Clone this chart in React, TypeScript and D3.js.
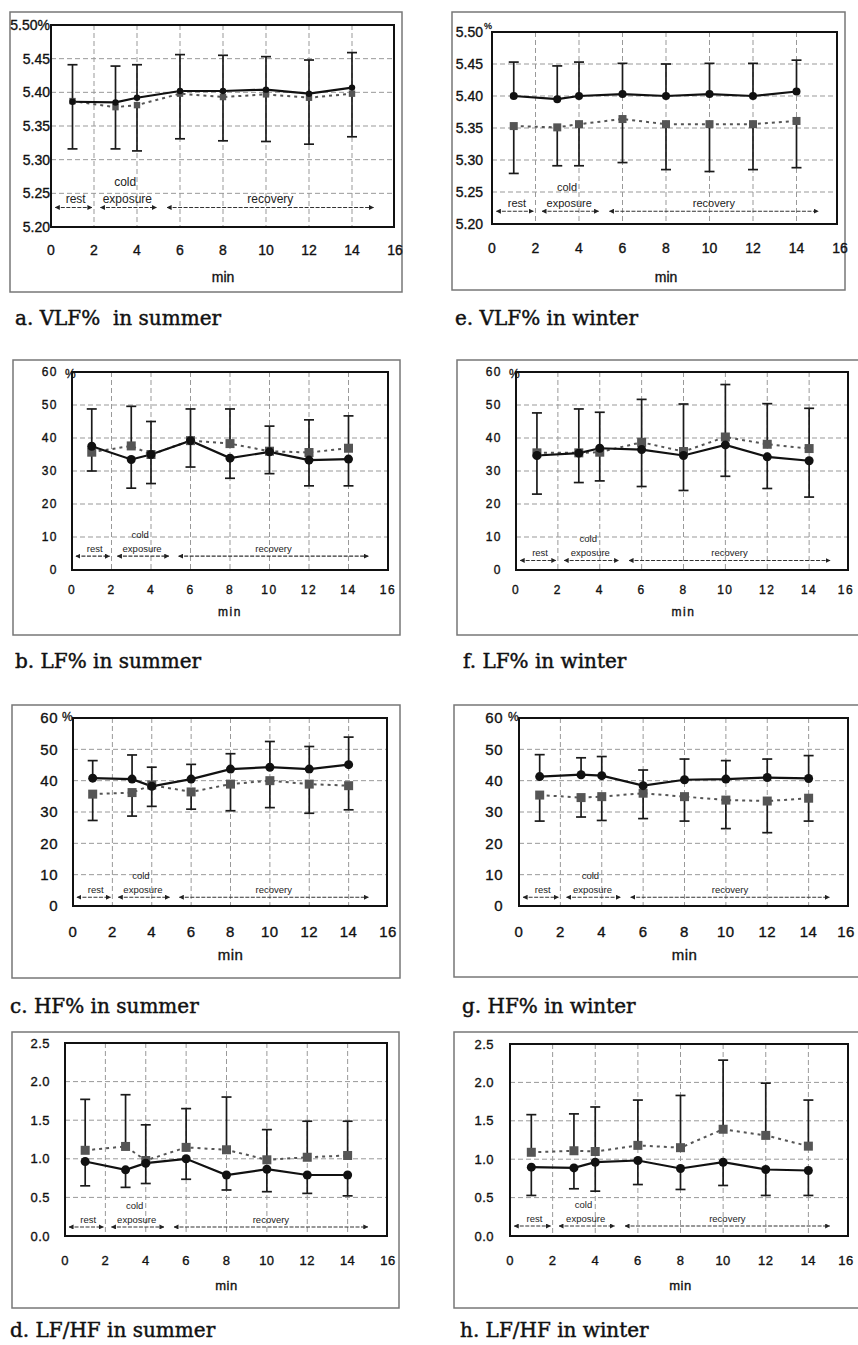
import React from 'react';
import * as d3 from 'd3';

// sampling times (min)
const minutes = [1, 3, 4, 6, 8, 10, 12, 14];
const xTicks = [0, 2, 4, 6, 8, 10, 12, 14, 16];
const vlfTicks = [5.2, 5.25, 5.3, 5.35, 5.4, 5.45, 5.5];
const pctTicks = [0, 10, 20, 30, 40, 50, 60];
const ratioTicks = [0, 0.5, 1.0, 1.5, 2.0, 2.5];

// a. VLF% summer
const vlfSummerSolid = [5.386, 5.385, 5.392, 5.402, 5.402, 5.404, 5.398, 5.407];
const vlfSummerSolidBar = [5.441, 5.439, 5.441, 5.456, 5.455, 5.453, 5.448, 5.459];
const vlfSummerDotted = [5.387, 5.378, 5.381, 5.398, 5.393, 5.397, 5.392, 5.398];
const vlfSummerDottedBar = [5.316, 5.316, 5.313, 5.331, 5.328, 5.327, 5.323, 5.334];

// e. VLF% winter
const vlfWinterSolid = [5.4, 5.395, 5.4, 5.403, 5.4, 5.403, 5.4, 5.407];
const vlfWinterSolidBar = [5.453, 5.447, 5.453, 5.451, 5.45, 5.451, 5.451, 5.456];
const vlfWinterDotted = [5.353, 5.351, 5.356, 5.364, 5.356, 5.356, 5.356, 5.361];
const vlfWinterDottedBar = [5.279, 5.291, 5.291, 5.296, 5.285, 5.282, 5.285, 5.288];

// b. LF% summer
const lfSummerSolid = [37.5, 33.5, 35, 39.2, 33.9, 35.8, 33.3, 33.6];
const lfSummerSolidBar = [30, 24.8, 26.2, 31.2, 27.8, 29.2, 25.5, 25.5];
const lfSummerDotted = [35.7, 37.6, 35, 39.2, 38.3, 36, 35.6, 36.9];
const lfSummerDottedBar = [48.8, 49.6, 45, 48.8, 48.8, 43.6, 45.5, 46.7];

// f. LF% winter
const lfWinterSolid = [34.7, 35.4, 36.9, 36.5, 34.7, 37.9, 34.3, 33.1];
const lfWinterSolidBar = [23, 26.5, 27, 25.3, 24.1, 28.4, 24.7, 22.1];
const lfWinterDotted = [35.5, 35.5, 35.7, 38.7, 35.9, 40.3, 38.1, 36.8];
const lfWinterDottedBar = [47.6, 48.8, 47.8, 51.7, 50.3, 56.2, 50.4, 49];

// c. HF% summer
const hfSummerSolid = [40.8, 40.5, 38.2, 40.5, 43.7, 44.3, 43.7, 45.1];
const hfSummerSolidBar = [46.4, 48.2, 44.3, 45.2, 48.6, 52.5, 50.9, 53.9];
const hfSummerDotted = [35.7, 36.2, 38.6, 36.4, 38.9, 40, 38.9, 38.4];
const hfSummerDottedBar = [27.3, 28.7, 31.8, 30.9, 30.4, 31.4, 29.6, 30.7];

// g. HF% winter
const hfWinterSolid = [41.3, 41.9, 41.6, 38.4, 40.3, 40.5, 41, 40.7];
const hfWinterSolidBar = [48.3, 47.3, 47.7, 43.4, 46.9, 46.4, 46.9, 48];
const hfWinterDotted = [35.4, 34.6, 34.9, 36, 34.9, 33.8, 33.5, 34.4];
const hfWinterDottedBar = [27.1, 28.4, 27.3, 27.9, 27.1, 24.7, 23.4, 27.1];

// d. LF/HF summer
const ratioSummerSolid = [0.965, 0.857, 0.943, 1.0, 0.79, 0.865, 0.79, 0.79];
const ratioSummerSolidBar = [0.65, 0.63, 0.68, 0.735, 0.596, 0.574, 0.552, 0.52];
const ratioSummerDotted = [1.11, 1.16, 0.978, 1.148, 1.117, 0.987, 1.02, 1.043];
const ratioSummerDottedBar = [1.77, 1.83, 1.44, 1.65, 1.8, 1.378, 1.487, 1.487];

// h. LF/HF winter
const ratioWinterSolid = [0.896, 0.887, 0.961, 0.983, 0.879, 0.961, 0.866, 0.853];
const ratioWinterSolidBar = [0.528, 0.615, 0.584, 0.67, 0.606, 0.658, 0.528, 0.528];
const ratioWinterDotted = [1.09, 1.11, 1.1, 1.18, 1.15, 1.39, 1.31, 1.17];
const ratioWinterDottedBar = [1.58, 1.59, 1.68, 1.77, 1.83, 2.29, 1.99, 1.77];

// experiment phases (min)
const phaseStart = [0.2, 2.3, 5.4];
const phaseEnd = [1.9, 4.9, 15];

const SANS = '"Liberation Sans", Arial, sans-serif';
const SERIF = '"DejaVu Serif", "Liberation Serif", serif';

type Panel = {
  caption: string;
  solid: number[]; solidBar: number[];
  dotted: number[]; dottedBar: number[];
  domain: [number, number]; ticks: number[]; fmt: (v: number) => string;
  arrowAt: number;
  box: [number, number, number, number];
  l: number; t: number; r: number; b: number; x16: number;
  labelX: number; tickDy: number; minDy: number;
  capX: number; capY: number;
  font: number; spacing: number; ann: number; mark: number;
  pct?: [number, number, number];
  inlinePct?: boolean;
};

const f2 = (v: number) => v.toFixed(2);
const f0 = (v: number) => String(v);
const f1 = (v: number) => v.toFixed(1);

const panels: Panel[] = [
  { caption: 'a. VLF%  in summer', solid: vlfSummerSolid, solidBar: vlfSummerSolidBar, dotted: vlfSummerDotted, dottedBar: vlfSummerDottedBar,
    domain: [5.2, 5.5], ticks: vlfTicks, fmt: f2, arrowAt: 5.229, inlinePct: true,
    box: [10, 12, 392, 280], l: 51, t: 25, r: 394, b: 227, x16: 395,
    labelX: 50, tickDy: 23, minDy: 50, capX: 15, capY: 325, font: 14, spacing: 0, ann: 12, mark: 3.2 },
  { caption: 'e. VLF% in winter', solid: vlfWinterSolid, solidBar: vlfWinterSolidBar, dotted: vlfWinterDotted, dottedBar: vlfWinterDottedBar,
    domain: [5.2, 5.5], ticks: vlfTicks, fmt: f2, arrowAt: 5.22, pct: [484, 29, 9],
    box: [452, 12, 393, 278], l: 492, t: 32, r: 837, b: 224, x16: 840,
    labelX: 483, tickDy: 24, minDy: 53, capX: 455, capY: 325, font: 14, spacing: 0, ann: 11, mark: 4 },
  { caption: 'b. LF% in summer', solid: lfSummerSolid, solidBar: lfSummerSolidBar, dotted: lfSummerDotted, dottedBar: lfSummerDottedBar,
    domain: [0, 60], ticks: pctTicks, fmt: f0, arrowAt: 4.2, pct: [65, 378, 12],
    box: [13, 360, 387, 275], l: 72, t: 372, r: 388, b: 570, x16: 388,
    labelX: 58, tickDy: 20, minDy: 42, capX: 15, capY: 668, font: 12, spacing: 1.5, ann: 9.5, mark: 4.5 },
  { caption: 'f. LF% in winter', solid: lfWinterSolid, solidBar: lfWinterSolidBar, dotted: lfWinterDotted, dottedBar: lfWinterDottedBar,
    domain: [0, 60], ticks: pctTicks, fmt: f0, arrowAt: 2.9, pct: [509, 378, 12],
    box: [457, 360, 420, 275], l: 516, t: 372, r: 848, b: 570, x16: 851,
    labelX: 502, tickDy: 20, minDy: 42, capX: 463, capY: 668, font: 12, spacing: 1.5, ann: 9.5, mark: 4.5 },
  { caption: 'c. HF% in summer', solid: hfSummerSolid, solidBar: hfSummerSolidBar, dotted: hfSummerDotted, dottedBar: hfSummerDottedBar,
    domain: [0, 60], ticks: pctTicks, fmt: f0, arrowAt: 2.8, pct: [62, 721, 12],
    box: [12, 705, 388, 273], l: 73, t: 718, r: 387, b: 906, x16: 388,
    labelX: 58, tickDy: 26, minDy: 49, capX: 10, capY: 1013, font: 15, spacing: 0.5, ann: 9.5, mark: 4.5 },
  { caption: 'g. HF% in winter', solid: hfWinterSolid, solidBar: hfWinterSolidBar, dotted: hfWinterDotted, dottedBar: hfWinterDottedBar,
    domain: [0, 60], ticks: pctTicks, fmt: f0, arrowAt: 2.8, pct: [508, 721, 12],
    box: [454, 705, 420, 272], l: 519, t: 718, r: 848, b: 906, x16: 850,
    labelX: 503, tickDy: 26, minDy: 49, capX: 462, capY: 1013, font: 15, spacing: 0.5, ann: 9.5, mark: 4.5 },
  { caption: 'd. LF/HF in summer', solid: ratioSummerSolid, solidBar: ratioSummerSolidBar, dotted: ratioSummerDotted, dottedBar: ratioSummerDottedBar,
    domain: [0, 2.5], ticks: ratioTicks, fmt: f1, arrowAt: 0.117,
    box: [12, 1032, 387, 276], l: 65, t: 1043, r: 387, b: 1236, x16: 388,
    labelX: 50, tickDy: 24, minDy: 49, capX: 10, capY: 1337, font: 13, spacing: 0.5, ann: 9.5, mark: 4.5 },
  { caption: 'h. LF/HF in winter', solid: ratioWinterSolid, solidBar: ratioWinterSolidBar, dotted: ratioWinterDotted, dottedBar: ratioWinterDottedBar,
    domain: [0, 2.5], ticks: ratioTicks, fmt: f1, arrowAt: 0.13,
    box: [454, 1032, 420, 276], l: 510, t: 1044, r: 848, b: 1236, x16: 851,
    labelX: 494, tickDy: 24, minDy: 49, capX: 460, capY: 1337, font: 13, spacing: 0.5, ann: 9.5, mark: 4.5 },
];

function ChartPanel({ p, idx }: { p: Panel; idx: number }) {
  const x = d3.scaleLinear().domain([0, 16]).range([p.l, p.x16]);
  const y = d3.scaleLinear().domain(p.domain).range([p.b, p.t]);
  const line = d3.line<number>().x((_, i) => x(minutes[i])).y(d => y(d));
  const clipId = `clip-${idx}`;
  const ay = y(p.arrowAt);
  const cap = 5;

  const bars = (means: number[], ends: number[]) =>
    means.map((m, i) => (
      <g key={i} stroke="#1a1a1a" strokeWidth={1.7}>
        <line x1={x(minutes[i])} x2={x(minutes[i])} y1={y(m)} y2={y(ends[i])} />
        <line x1={x(minutes[i]) - cap} x2={x(minutes[i]) + cap} y1={y(ends[i])} y2={y(ends[i])} />
      </g>
    ));

  return (
    <g>
      <rect x={p.box[0]} y={p.box[1]} width={p.box[2]} height={p.box[3]} fill="none" stroke="#777" strokeWidth={1.5} />
      <defs>
        <clipPath id={clipId}>
          <rect x={p.l} y={p.t} width={p.r - p.l} height={p.b - p.t} />
        </clipPath>
      </defs>
      <g clipPath={`url(#${clipId})`}>
        {p.ticks.slice(1, -1).map(v => (
          <line key={'h' + v} x1={p.l} x2={p.r} y1={y(v)} y2={y(v)} stroke="#999" strokeWidth={1} strokeDasharray="5,3" />
        ))}
        {xTicks.slice(1, -1).map(v => (
          <line key={'v' + v} x1={x(v)} x2={x(v)} y1={p.t} y2={p.b} stroke="#999" strokeWidth={1} strokeDasharray="5,3" />
        ))}
        {/* phase arrows */}
        {phaseStart.map((s, i) => (
          <line key={'ph' + i} x1={x(s)} x2={x(phaseEnd[i])} y1={ay} y2={ay} stroke="#333" strokeWidth={1.1}
            strokeDasharray="4,1.5" markerStart="url(#arrowS)" markerEnd="url(#arrowE)" />
        ))}
        {bars(p.solid, p.solidBar)}
        {bars(p.dotted, p.dottedBar)}
        <path d={line(p.dotted) || ''} fill="none" stroke="#555" strokeWidth={2} strokeDasharray="3,4" />
        <path d={line(p.solid) || ''} fill="none" stroke="#111" strokeWidth={2.2} />
        {p.dotted.map((v, i) => (
          <rect key={'s' + i} x={x(minutes[i]) - p.mark} y={y(v) - p.mark} width={p.mark * 2} height={p.mark * 2} fill="#555" />
        ))}
        {p.solid.map((v, i) => (
          <circle key={'c' + i} cx={x(minutes[i])} cy={y(v)} r={p.mark} fill="#111" />
        ))}
      </g>
      <rect x={p.l} y={p.t} width={p.r - p.l} height={p.b - p.t} fill="none" stroke="#111" strokeWidth={2} />

      {/* phase labels */}
      <g fontFamily={SANS} fontSize={p.ann} fill="#222" textAnchor="middle">
        <text x={x(1.15)} y={ay - 4}>rest</text>
        <text x={x(3.55)} y={ay - 4}>exposure</text>
        <text x={x(3.45)} y={ay - 6 - p.ann * 1.3}>cold</text>
        <text x={x(10.2)} y={ay - 4}>recovery</text>
      </g>

      {/* y tick labels */}
      <g fontFamily={SANS} fontSize={p.font} fill="#111" stroke="#111" strokeWidth={0.35} textAnchor="end" letterSpacing={p.spacing}>
        {p.ticks.map((v, i) => (
          <text key={v} x={p.labelX} y={y(v)} dy="0.36em">
            {p.fmt(v) + (p.inlinePct && i === p.ticks.length - 1 ? '%' : '')}
          </text>
        ))}
      </g>
      {p.pct && (
        <text x={p.pct[0]} y={p.pct[1]} fontFamily={SANS} fontSize={p.pct[2]} fill="#111" stroke="#111" strokeWidth={0.3}>%</text>
      )}

      {/* x tick labels */}
      <g fontFamily={SANS} fontSize={p.font} fill="#111" stroke="#111" strokeWidth={0.35} textAnchor="middle" letterSpacing={p.spacing}>
        {xTicks.map(v => (
          <text key={v} x={Math.min(x(v), 846)} y={p.b + p.tickDy} dy="0.36em">{v}</text>
        ))}
        <text x={x(8)} y={p.b + p.minDy} dy="0.36em">min</text>
      </g>

      <text x={p.capX} y={p.capY} fontFamily={SERIF} fontSize={20} fill="#111" stroke="#111" strokeWidth={0.45} style={{ whiteSpace: 'pre' }}>
        {p.caption}
      </text>
    </g>
  );
}

export default function App() {
  return (
    <svg width={858} height={1345} style={{ position: 'absolute', left: 0, top: 0, background: '#fff' }}>
      <defs>
        <marker id="arrowE" viewBox="0 0 10 10" refX="9" refY="5" markerWidth="5" markerHeight="5" orient="auto" markerUnits="userSpaceOnUse">
          <path d="M0,0 L10,5 L0,10 z" fill="#222" />
        </marker>
        <marker id="arrowS" viewBox="0 0 10 10" refX="1" refY="5" markerWidth="5" markerHeight="5" orient="auto" markerUnits="userSpaceOnUse">
          <path d="M10,0 L0,5 L10,10 z" fill="#222" />
        </marker>
      </defs>
      <rect width={858} height={1345} fill="#fff" />
      {panels.map((p, i) => (
        <ChartPanel key={i} p={p} idx={i} />
      ))}
    </svg>
  );
}
